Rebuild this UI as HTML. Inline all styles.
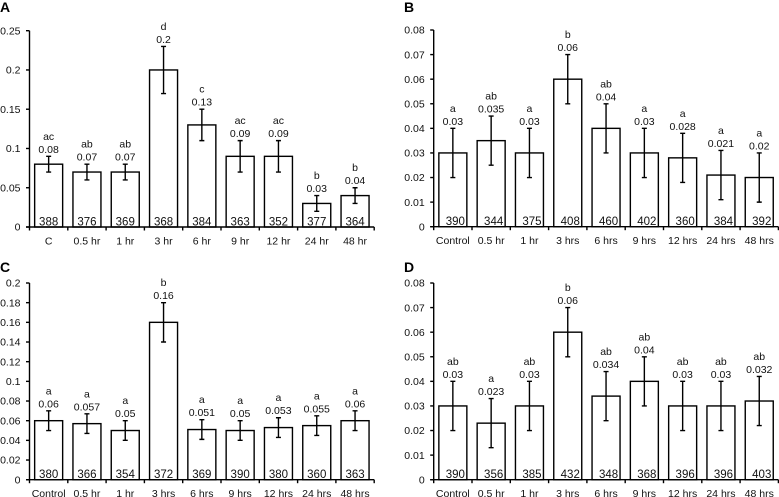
<!DOCTYPE html>
<html lang="en">
<head>
<meta charset="utf-8">
<title>Four-panel bar charts</title>
<style>
html,body{margin:0;padding:0;background:#fff;width:779px;height:497px;overflow:hidden}
svg{display:block}
text{font-family:"Liberation Sans",Arial,sans-serif;font-size:10.5px;fill:#111}
.letter{font-size:14px;font-weight:bold;fill:#000}
.count{font-size:11.5px}
</style>
</head>
<body>
<svg id="chart" width="779" height="497" viewBox="0 0 779 497" xmlns="http://www.w3.org/2000/svg"></svg>
<script>
const aCategories = ["C","0.5 hr","1 hr","3 hr","6 hr","9 hr","12 hr","24 hr","48 hr"];
const aValues = [0.08,0.07,0.07,0.2,0.13,0.09,0.09,0.03,0.04];
const aErrors = [0.01,0.01,0.01,0.03,0.02,0.02,0.02,0.01,0.01];
const aGroups = ["ac","ab","ab","d","c","ac","ac","b","b"];
const aCounts = [388,376,369,368,384,363,352,377,364];
const aTicks = [0,0.05,0.1,0.15,0.2,0.25];

const bCategories = ["Control","0.5 hr","1 hr","3 hrs","6 hrs","9 hrs","12 hrs","24 hrs","48 hrs"];
const bValues = [0.03,0.035,0.03,0.06,0.04,0.03,0.028,0.021,0.02];
const bErrors = [0.01,0.01,0.01,0.01,0.01,0.01,0.01,0.01,0.01];
const bGroups = ["a","ab","a","b","ab","a","a","a","a"];
const bCounts = [390,344,375,408,460,402,360,384,392];
const bTicks = [0,0.01,0.02,0.03,0.04,0.05,0.06,0.07,0.08];

const cCategories = ["Control","0.5 hr","1 hr","3 hrs","6 hrs","9 hrs","12 hrs","24 hrs","48 hrs"];
const cValues = [0.06,0.057,0.05,0.16,0.051,0.05,0.053,0.055,0.06];
const cErrors = [0.01,0.01,0.01,0.02,0.01,0.01,0.01,0.01,0.01];
const cGroups = ["a","a","a","b","a","a","a","a","a"];
const cCounts = [380,366,354,372,369,390,380,360,363];
const cTicks = [0,0.02,0.04,0.06,0.08,0.1,0.12,0.14,0.16,0.18,0.2];

const dCategories = ["Control","0.5 hr","1 hr","3 hrs","6 hrs","9 hrs","12 hrs","24 hrs","48 hrs"];
const dValues = [0.03,0.023,0.03,0.06,0.034,0.04,0.03,0.03,0.032];
const dErrors = [0.01,0.01,0.01,0.01,0.01,0.01,0.01,0.01,0.01];
const dGroups = ["ab","a","ab","b","ab","ab","ab","ab","ab"];
const dCounts = [390,356,385,432,348,368,396,396,403];
const dTicks = [0,0.01,0.02,0.03,0.04,0.05,0.06,0.07,0.08];

const NS = "http://www.w3.org/2000/svg";
const root = document.getElementById("chart");

function make(parent, tag, attrs, txt) {
  const el = document.createElementNS(NS, tag);
  for (const k in attrs) el.setAttribute(k, attrs[k]);
  if (txt !== undefined) el.textContent = txt;
  parent.appendChild(el);
  return el;
}

function drawPanel(p) {
  const maxV = p.ticks[p.ticks.length - 1];
  const yScale = v => p.bottom - (v / maxV) * (p.bottom - p.top);
  const step = 38.3;
  const xScale = i => p.left + step * (i + 0.5);
  const right = p.left + step * p.categories.length;
  const barW = 28;
  const lineW = 1.4;

  const g = make(root, "g", {});
  
  

  const letter = make(g, "text", {x: p.letterX, y: p.letterY, "class": "letter"}, p.name.toUpperCase());
  
  

  p.categories.forEach((cat, i) => {
    const cx = xScale(i);
    const v = p.values[i];
    const e = p.errors[i];
    const yTop = yScale(v);

    const bar = make(g, "rect", {x: cx - barW / 2, y: yTop, width: barW, height: p.bottom - yTop, fill: "#fff", stroke: "#000", "stroke-width": lineW});
    
    

    const yHi = yScale(v + e);
    const yLo = yScale(v - e);
    const err = make(g, "path", {d: "M" + cx + " " + yHi + "V" + yLo + "M" + (cx - 2.5) + " " + yHi + "H" + (cx + 2.5) + "M" + (cx - 2.5) + " " + yLo + "H" + (cx + 2.5), fill: "none", stroke: "#000", "stroke-width": lineW});
    
    

    const valueLabel = make(g, "text", {x: cx, y: yHi - 3.5, "text-anchor": "middle"}, String(v));
    
    

    const groupLabel = make(g, "text", {x: cx, y: yHi - 16.5, "text-anchor": "middle"}, p.groups[i]);
    
    

    const countLabel = make(g, "text", {x: cx + p.countShift, y: p.bottom - 1.5, "text-anchor": "middle", "class": "count"}, String(p.counts[i]));
    
    

    const catLabel = make(g, "text", {x: cx, y: p.bottom + 17.5, "text-anchor": "middle"}, cat);
    
    
  });

  const yAxis = make(g, "line", {x1: p.left, x2: p.left, y1: p.top, y2: p.bottom, stroke: "#000", "stroke-width": lineW});
  
  

  const xAxis = make(g, "line", {x1: p.left - 3.5, x2: right, y1: p.bottom, y2: p.bottom, stroke: "#000", "stroke-width": lineW});
  
  

  p.ticks.forEach(t => {
    const y = yScale(t);
    const tick = make(g, "line", {x1: p.left - 3.5, x2: p.left, y1: y, y2: y, stroke: "#000", "stroke-width": lineW});
    
    

    const tickLabel = make(g, "text", {x: p.left - 9, y: y + 3.7, "text-anchor": "end"}, String(t));
    
    
  });

  for (let i = 0; i <= p.categories.length; i++) {
    const x = p.left + step * i;
    const xTick = make(g, "line", {x1: x, x2: x, y1: p.bottom, y2: p.bottom + 3.5, stroke: "#000", "stroke-width": lineW});
    
    
  }
}

drawPanel({name: "a", left: 29.5, top: 30.7, bottom: 227, letterX: 0, letterY: 12, countShift: 0, categories: aCategories, values: aValues, errors: aErrors, groups: aGroups, counts: aCounts, ticks: aTicks});
drawPanel({name: "b", left: 433.7, top: 30, bottom: 226.7, letterX: 404, letterY: 12, countShift: 2.5, categories: bCategories, values: bValues, errors: bErrors, groups: bGroups, counts: bCounts, ticks: bTicks});
drawPanel({name: "c", left: 29.5, top: 283, bottom: 479.7, letterX: 0, letterY: 272, countShift: 0, categories: cCategories, values: cValues, errors: cErrors, groups: cGroups, counts: cCounts, ticks: cTicks});
drawPanel({name: "d", left: 433.7, top: 283, bottom: 479.7, letterX: 404, letterY: 272, countShift: 2.5, categories: dCategories, values: dValues, errors: dErrors, groups: dGroups, counts: dCounts, ticks: dTicks});
</script>
</body>
</html>
